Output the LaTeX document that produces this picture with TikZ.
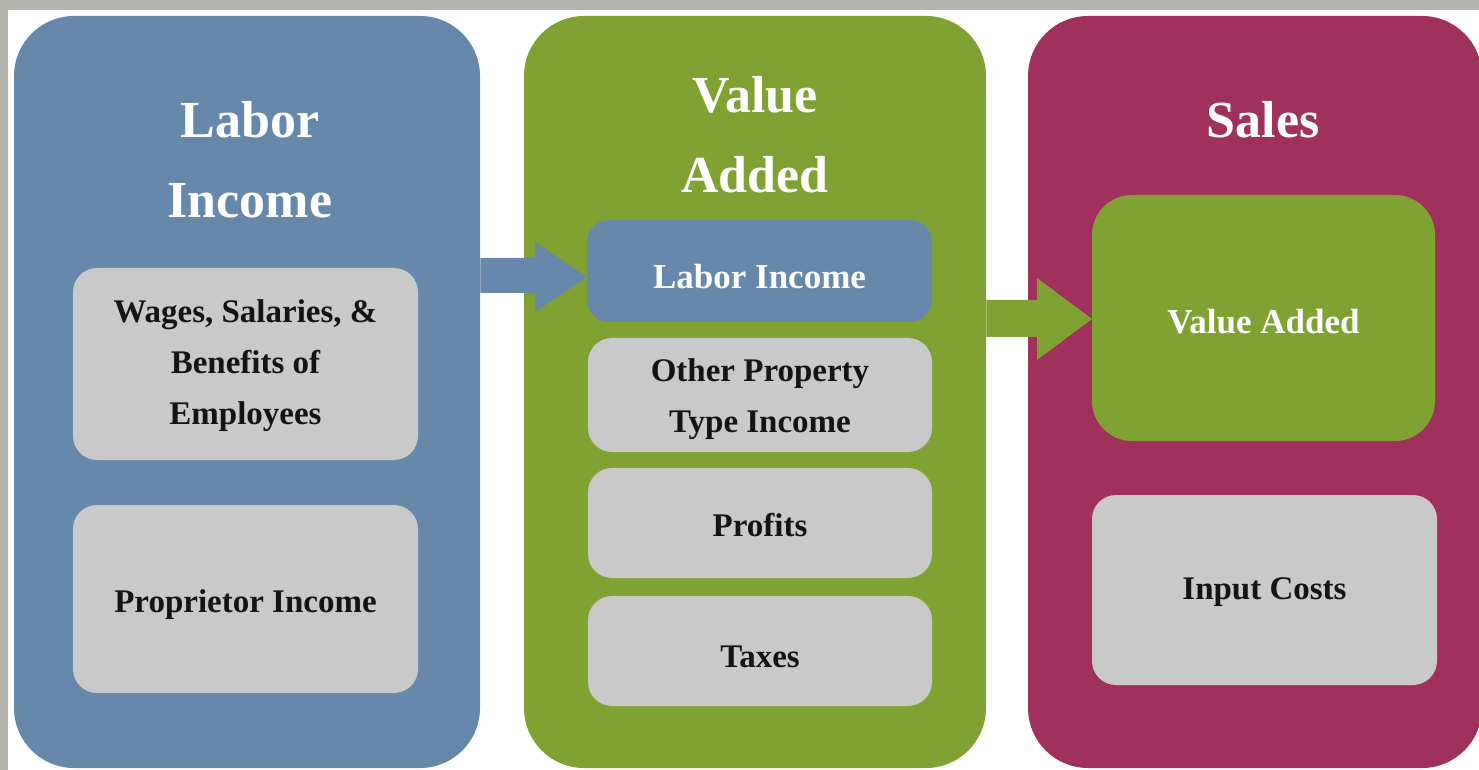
\documentclass[tikz,border=0pt]{standalone}
\usepackage{fontspec}
\setmainfont{Liberation Serif}
\usetikzlibrary{fit,calc}
\definecolor{bluec}{HTML}{6688AA}
\definecolor{greenc}{HTML}{80A232}
\definecolor{magc}{HTML}{A0305C}
\definecolor{grayc}{HTML}{C9C9C9}
\definecolor{texc}{HTML}{B4B4AC}
\definecolor{inkc}{HTML}{141414}
\tikzset{
  panel/.style={inner sep=0pt, rounded corners=30pt},
  gbox/.style={fill=grayc, inner sep=0pt, rounded corners=12pt},
  cbox/.style={inner sep=0pt, rounded corners=11pt},
  gtxt/.style={text=inkc, align=center, inner sep=0pt,
    font=\bfseries\fontsize{16.5}{25.5}\selectfont},
  ctxt/.style={text=white, align=center, inner sep=0pt,
    font=\bfseries\fontsize{17.5}{25}\selectfont},
  ttl/.style={text=white, align=center, inner sep=0pt,
    font=\bfseries\fontsize{26}{40}\selectfont}
}
\begin{document}
\begin{tikzpicture}[x=0.5pt,y=-0.5pt]
\useasboundingbox (0,0) rectangle (1479,770);
\fill[texc] (0,0) rectangle (1479,770);
\fill[white] (8,10) rectangle (1479,770);

% panels
\node[panel, fill=bluec, fit={(14,16) (480,768)}] (labp) {};
\node[panel, fill=greenc, fit={(524,16) (986,768)}] (vap) {};
\node[panel, fill=magc, fit={(1028,16) (1482,768)}] (salp) {};

% titles
\node[ttl] (t1) at (250,160) {Labor\\Income};
\node[ttl] (t2) at (755,135) {Value\\Added};
\node[ttl] (t3) at (1263,120) {Sales};

% arrows
\fill[bluec] (labp.east |- 0,258) -- (535,258) -- (535,242) -- (587,277)
  -- (535,312) -- (535,293) -- (labp.east |- 0,293) -- cycle;
\fill[greenc] (vap.east |- 0,300) -- (1037,300) -- (1037,278) -- (1092,319)
  -- (1037,360) -- (1037,337) -- (vap.east |- 0,337) -- cycle;

% blue panel boxes
\node[gbox, fit={(73,268) (418,460)}] (wag) {};
\node[gtxt] at ([yshift=-1pt]wag.center) {Wages, Salaries, \&\\Benefits of\\Employees};
\node[gbox, fit={(73,505) (418,693)}] (prop) {};
\node[gtxt] at ([yshift=-3pt]prop.center) {Proprietor Income};

% green panel boxes
\node[cbox, fill=bluec, fit={(587,220) (932,322)}] (li) {};
\node[ctxt] at ([yshift=-3pt]li.center) {Labor Income};
\node[gbox, fit={(588,338) (932,452)}] (opt) {};
\node[gtxt] at ([yshift=-2pt]opt.center) {Other Property\\Type Income};
\node[gbox, fit={(588,468) (932,578)}] (prof) {};
\node[gtxt] at ([yshift=-1pt]prof.center) {Profits};
\node[gbox, fit={(588,596) (932,706)}] (tax) {};
\node[gtxt] at ([yshift=-3pt]tax.center) {Taxes};

% sales panel boxes
\node[cbox, fill=greenc, rounded corners=20pt, fit={(1092,195) (1435,441)}] (vab) {};
\node[ctxt] at ([yshift=-2pt]vab.center) {Value Added};
\node[gbox, fit={(1092,495) (1437,685)}] (inp) {};
\node[gtxt] at ([yshift=-1pt]inp.center) {Input Costs};
\end{tikzpicture}
\end{document}
